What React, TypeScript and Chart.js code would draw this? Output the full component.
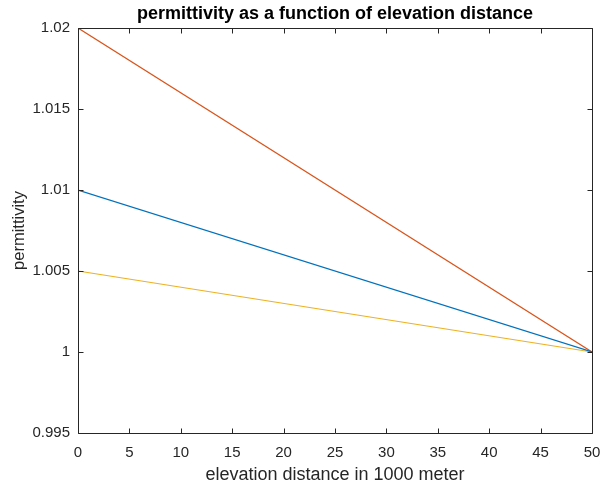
import React, { useEffect, useRef } from "react";
import { Chart, registerables } from "chart.js";

Chart.register(...registerables);

const titleText = "permittivity as a function of elevation distance";
const xTitle = "elevation distance in 1000 meter";
const yTitle = "permittivity";
const distance = [0, 50];
const seriesRed = [1.02, 1.0];
const seriesBlue = [1.01, 1.0];
const seriesYellow = [1.005, 1.0];
const xTicks = [0, 5, 10, 15, 20, 25, 30, 35, 40, 45, 50];
const yTicks = [0.995, 1, 1.005, 1.01, 1.015, 1.02];

const AXIS = "#262626";
const FONT = "'Liberation Sans', Arial, sans-serif";

const boxPlugin = {
  id: "matlabBox",
  afterDraw(chart: any) {
    const { ctx, chartArea } = chart;
    const { left, right, top, bottom } = chartArea;
    const xs = chart.scales.x;
    const ys = chart.scales.y;
    ctx.save();
    ctx.strokeStyle = AXIS;
    ctx.lineWidth = 1;
    ctx.beginPath();
    const L = Math.round(left) + 0.5;
    const R = Math.round(right) + 0.5;
    const T = Math.round(top) + 0.5;
    const B = Math.round(bottom) + 0.5;
    ctx.rect(L, T, R - L, B - T);
    const tl = 5;
    xTicks.forEach((v) => {
      const px = Math.round(xs.getPixelForValue(v)) + 0.5;
      ctx.moveTo(px, B);
      ctx.lineTo(px, B - tl);
      ctx.moveTo(px, T);
      ctx.lineTo(px, T + tl);
    });
    yTicks.forEach((v) => {
      const py = Math.round(ys.getPixelForValue(v)) + 0.5;
      ctx.moveTo(L, py);
      ctx.lineTo(L + tl, py);
      ctx.moveTo(R, py);
      ctx.lineTo(R - tl, py);
    });
    ctx.stroke();

    ctx.fillStyle = "#000";
    ctx.textAlign = "center";
    ctx.textBaseline = "middle";
    ctx.font = `bold 18px ${FONT}`;
    ctx.fillText(titleText, (left + right) / 2, 14);
    ctx.fillStyle = AXIS;
    ctx.font = `18px ${FONT}`;
    ctx.fillText(xTitle, (left + right) / 2, 475);
    ctx.font = `16.5px ${FONT}`;
    ctx.translate(19, (top + bottom) / 2);
    ctx.rotate(-Math.PI / 2);
    ctx.fillText(yTitle, 0, 0);
    ctx.restore();
  },
};

export default function App() {
  const ref = useRef<HTMLCanvasElement | null>(null);
  useEffect(() => {
    if (!ref.current) return;
    const mk = (ys: number[]) => distance.map((x, i) => ({ x, y: ys[i] }));
    const chart = new Chart(ref.current, {
      type: "line",
      data: {
        datasets: [
          { data: mk(seriesBlue), borderColor: "#0072BD", borderWidth: 1.2, pointRadius: 0, fill: false },
          { data: mk(seriesRed), borderColor: "#D95319", borderWidth: 1.2, pointRadius: 0, fill: false },
          { data: mk(seriesYellow), borderColor: "#EDB120", borderWidth: 1.2, pointRadius: 0, fill: false },
        ],
      },
      options: {
        animation: false,
        responsive: false,
        devicePixelRatio: 1,
        layout: { padding: { top: 28, right: 13, left: 0, bottom: 0 } },
        plugins: { legend: { display: false }, title: { display: false }, tooltip: { enabled: false } },
        scales: {
          x: {
            type: "linear",
            min: 0,
            max: 50,
            grid: { display: false, drawTicks: false },
            border: { display: false },
            afterFit: (s: any) => { s.height = 52; s.paddingLeft = 0; s.paddingRight = 0; },
            afterBuildTicks: (s: any) => { s.ticks = xTicks.map((v) => ({ value: v })); },
            ticks: { color: AXIS, font: { family: FONT, size: 15 }, padding: 11, maxRotation: 0, autoSkip: false },
          },
          y: {
            type: "linear",
            min: 0.995,
            max: 1.02,
            grid: { display: false, drawTicks: false },
            border: { display: false },
            afterFit: (s: any) => { s.width = 78; s.paddingTop = 0; s.paddingBottom = 0; },
            afterBuildTicks: (s: any) => { s.ticks = yTicks.map((v) => ({ value: v })); },
            ticks: {
              color: AXIS,
              font: { family: FONT, size: 15 },
              padding: 8,
              autoSkip: false,
              callback: (v: any) => String(parseFloat(Number(v).toFixed(3))),
            },
          },
        },
      },
      plugins: [boxPlugin],
    });
    return () => chart.destroy();
  }, []);
  return (
    <div style={{ position: "fixed", left: 0, top: 0, width: 605, height: 485, background: "#fff" }}>
      <canvas ref={ref} width={605} height={485} style={{ width: 605, height: 485 }} />
    </div>
  );
}
